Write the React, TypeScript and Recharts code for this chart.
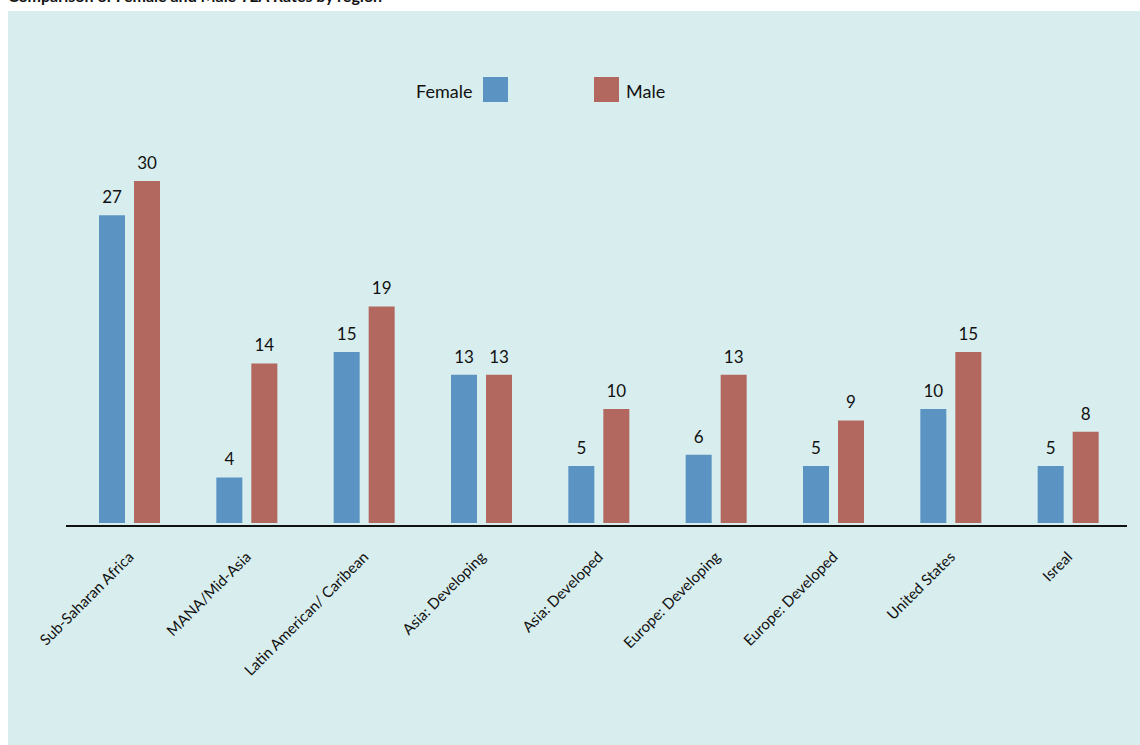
import { BarChart, Bar, XAxis, YAxis, LabelList } from 'recharts';

const regions = [
  'Sub-Saharan Africa',
  'MANA/Mid-Asia',
  'Latin American/ Caribean',
  'Asia: Developing',
  'Asia: Developed',
  'Europe: Developing',
  'Europe: Developed',
  'United States',
  'Isreal',
];
const female = [27, 4, 15, 13, 5, 6, 5, 10, 5];
const male = [30, 14, 19, 13, 10, 13, 9, 15, 8];

const data = regions.map((name, i) => ({ name, female: female[i], male: male[i] }));

const BLUE = '#5b93c3';
const RED = '#b2675f';
const FONT = 'Lato, "Open Sans", sans-serif';

function RegionTick(props: any) {
  const { x, y, payload } = props;
  return (
    <text
      transform={`translate(${x + 5},${y + 24}) rotate(-45)`}
      textAnchor="end"
      fontSize={15}
      fontFamily={FONT}
      fill="#111"
    >
      {payload.value}
    </text>
  );
}

function LegendBox() {
  return (
    <div
      style={{
        position: 'absolute',
        left: 408,
        top: 66,
        width: 400,
        height: 30,
        fontFamily: FONT,
        fontSize: 18,
        color: '#111',
      }}
    >
      <span style={{ position: 'absolute', left: 0, top: 3 }}>Female</span>
      <span style={{ position: 'absolute', left: 67, top: 0, width: 25, height: 25, background: BLUE }} />
      <span style={{ position: 'absolute', left: 178, top: 0, width: 25, height: 25, background: RED }} />
      <span style={{ position: 'absolute', left: 210, top: 3 }}>Male</span>
    </div>
  );
}

export default function App() {
  return (
    <div style={{ position: 'absolute', left: 8, top: 0, width: 1132, height: 745 }}>
      <div
        style={{
          position: 'absolute',
          left: 0,
          top: -14,
          fontFamily: FONT,
          fontWeight: 'bold',
          fontSize: 16,
          color: '#111',
          whiteSpace: 'nowrap',
        }}
      >
        Comparison of Female and Male TEA Rates by region
      </div>
      <div style={{ position: 'absolute', left: 0, top: 11, width: 1132, height: 734, background: '#d8eded' }}>
        <LegendBox />
        <BarChart
          width={1132}
          height={734}
          data={data}
          margin={{ top: 113, right: 13, left: 58, bottom: 0 }}
          barSize={26}
          barGap={9}
        >
          <XAxis
            dataKey="name"
            interval={0}
            tick={<RegionTick />}
            tickLine={false}
            axisLine={{ stroke: '#111', strokeWidth: 2 }}
            padding={{ left: 5, right: 0 }}
            height={219}
          />
          <YAxis hide domain={[-0.26, 35]} />
          <Bar dataKey="female" fill={BLUE} isAnimationActive={false}>
            <LabelList dataKey="female" position="top" offset={12} fontSize={17} fontFamily={FONT} fill="#111" />
          </Bar>
          <Bar dataKey="male" fill={RED} isAnimationActive={false}>
            <LabelList dataKey="male" position="top" offset={12} fontSize={17} fontFamily={FONT} fill="#111" />
          </Bar>
        </BarChart>
      </div>
    </div>
  );
}
